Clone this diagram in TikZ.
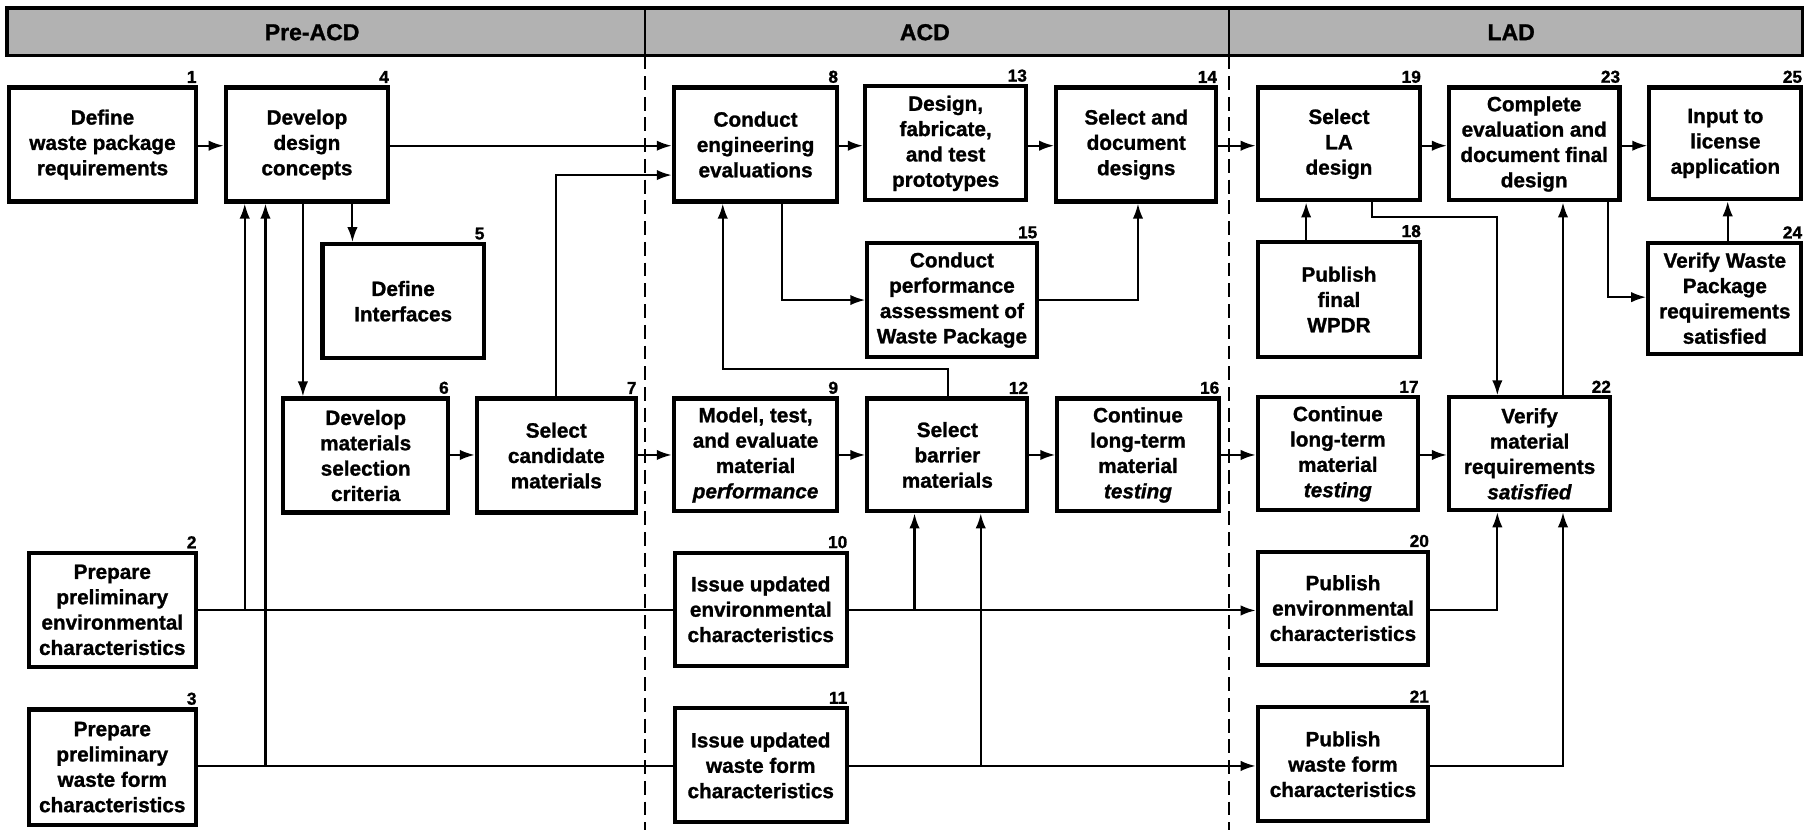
\documentclass[tikz,border=0pt]{standalone}
\usepackage{fontspec}
\setmainfont{Liberation Sans}[BoldFeatures={FakeBold=1.2},BoldItalicFeatures={FakeBold=1.2}]
\usetikzlibrary{arrows.meta}
\newcommand\bxfont{\fontsize{18}{22}\selectfont\bfseries}
\newcommand\nmfont{\fontsize{15}{15}\selectfont\bfseries}
\newcommand\phfont{\fontsize{20}{20}\selectfont\bfseries}
\newcommand\bx[6]{%
  \node[box, minimum width={#4-#2}, minimum height={#5-#3}] (b#1) at ({(#2+#4)/2},{(#3+#5)/2}) {#6};
  \node[num] (l#1) at ([yshift=1pt]b#1.north east) {#1};}
\begin{document}
\begin{tikzpicture}[x=1pt,y=-1pt,
  box/.style={draw, line width=3.6pt, align=center, font=\bxfont, inner sep=2pt},
  num/.style={font=\nmfont, anchor=south east, inner sep=1pt},
  con/.style={line width=1.8pt},
  arr/.style={con, -{Latex[length=13pt,width=9pt]}},
  phase/.style={font=\phfont},
  divider/.style={line width=2.2pt, dash pattern=on 12pt off 6pt}
]
\useasboundingbox (0,0) rectangle (1568,721);
% header bar
\draw[line width=3pt, fill=black!30] (6,7) rectangle (1565,48);
\draw[line width=2.2pt] (560,7) -- (560,48) (1067,7) -- (1067,48);
\node[phase] (ph1) at (271,28) {Pre-ACD};
\node[phase] (ph2) at (803,28) {ACD};
\node[phase] (ph3) at (1312,28) {LAD};
\draw[divider] (560,48) -- (560,721);
\draw[divider] (1067,48) -- (1067,721);
% boxes
\bx{1}{8}{76}{170}{175}{Define\\waste package\\requirements}
\bx{4}{196}{76}{337}{175}{Develop\\design\\concepts}
\bx{8}{585}{76}{727}{175}{Conduct\\engineering\\evaluations}
\bx{13}{751}{75}{891}{174}{Design,\\fabricate,\\and test\\prototypes}
\bx{14}{917}{76}{1056}{175}{Select and\\document\\designs}
\bx{19}{1092}{76}{1233}{174}{Select\\LA\\design}
\bx{23}{1258}{76}{1406}{174}{Complete\\evaluation and\\document final\\design}
\bx{25}{1432}{76}{1564}{173}{Input to\\license\\application}
\bx{5}{280}{212}{420}{311}{Define\\Interfaces}
\bx{15}{753}{211}{900}{310}{Conduct\\performance\\assessment of\\Waste Package}
\bx{18}{1092}{210}{1233}{310}{Publish\\final\\WPDR}
\bx{24}{1431}{211}{1564}{307}{Verify Waste\\Package\\requirements\\satisfied}
\bx{6}{246}{346}{389}{445}{Develop\\materials\\selection\\criteria}
\bx{7}{414}{346}{552}{445}{Select\\candidate\\materials}
\bx{9}{585}{346}{727}{444}{Model, test,\\and evaluate\\material\\\textit{performance}}
\bx{12}{753}{346}{892}{444}{Select\\barrier\\materials}
\bx{16}{918}{346}{1058}{444}{Continue\\long-term\\material\\\textit{testing}}
\bx{17}{1092}{345}{1231}{443}{Continue\\long-term\\material\\\textit{testing}}
\bx{22}{1258}{345}{1398}{443}{Verify\\material\\requirements\\\textit{satisfied}}
\bx{2}{25}{480}{170}{579}{Prepare\\preliminary\\environmental\\characteristics}
\bx{10}{586}{480}{735}{578}{Issue updated\\environmental\\characteristics}
\bx{20}{1092}{479}{1240}{577}{Publish\\environmental\\characteristics}
\bx{3}{25}{616}{170}{716}{Prepare\\preliminary\\waste form\\characteristics}
\bx{11}{586}{615}{735}{714}{Issue updated\\waste form\\characteristics}
\bx{21}{1092}{614}{1240}{713}{Publish\\waste form\\characteristics}
% reference levels
\coordinate (yA) at (0,126.5);
\coordinate (yA2) at (0,152);
\coordinate (yB) at (0,260.5);
\coordinate (yC) at (0,395);
\coordinate (yD) at (0,530);
\coordinate (yE) at (0,665);
\coordinate (x2) at (212.5,0);
\coordinate (x3) at (230.5,0);
\coordinate (x6) at (263,0);
\coordinate (x5) at (306,0);
\coordinate (x8) at (679,0);
\coordinate (x14) at (988,0);
\coordinate (k1) at (823,320);
\coordinate (k2) at (627.5,320);
\coordinate (j1) at (794,530);
\coordinate (j2) at (851.5,665);
\coordinate (xa) at (1300,0);
\coordinate (xb) at (1357,0);
\coordinate (m1) at (1191,188);
\coordinate (m2) at (1300,188);
\coordinate (x18) at (1134,0);
\coordinate (n1) at (1396,258);
\coordinate (x24) at (1500,0);
% row A
\draw[arr] (b1.east |- yA) -- (b4.west |- yA);
\draw[arr] (b4.east |- yA) -- (b8.west |- yA);
\draw[arr] (b8.east |- yA) -- (b13.west |- yA);
\draw[arr] (b13.east |- yA) -- (b14.west |- yA);
\draw[arr] (b14.east |- yA) -- (b19.west |- yA);
\draw[arr] (b19.east |- yA) -- (b23.west |- yA);
\draw[arr] (b23.east |- yA) -- (b25.west |- yA);
\draw[arr] (b7.north) |- (b8.west |- yA2);
% from box 4
\draw[arr] (b4.south -| x5) -- (b5.north -| x5);
\draw[arr] (b4.south -| x6) -- (b6.north -| x6);
\draw[arr] (b2.east |- yD) -| (b4.south -| x2);
\draw[arr] (b3.east |- yE) -| (b4.south -| x3);
\draw[con] (b2.east |- yD) -- (b10.west |- yD);
\draw[con] (b3.east |- yE) -- (b11.west |- yE);
% row C
\draw[arr] (b6.east |- yC) -- (b7.west |- yC);
\draw[arr] (b7.east |- yC) -- (b9.west |- yC);
\draw[arr] (b9.east |- yC) -- (b12.west |- yC);
\draw[arr] (b12.east |- yC) -- (b16.west |- yC);
\draw[arr] (b16.east |- yC) -- (b17.west |- yC);
\draw[arr] (b17.east |- yC) -- (b22.west |- yC);
% ACD loops
\draw[arr] (b8.south -| x8) |- (b15.west |- yB);
\draw[arr] (b15.east |- yB) -| (b14.south -| x14);
\draw[arr] (b12.north -| k1) -- (k1) -- (k2) -- (b8.south -| k2);
\draw[arr] (b10.east |- yD) -- (b20.west |- yD);
\draw[arr] (b11.east |- yE) -- (b21.west |- yE);
\draw[arr] (j1) -- (b12.south -| j1);
\draw[arr] (j2) -- (b12.south -| j2);
% LAD
\draw[arr] (b20.east |- yD) -| (b22.south -| xa);
\draw[arr] (b21.east |- yE) -| (b22.south -| xb);
\draw[arr] (b19.south -| m1) -- (m1) -- (m2) -- (b22.north -| m2);
\draw[arr] (b22.north -| xb) -- (b23.south -| xb);
\draw[arr] (b18.north -| x18) -- (b19.south -| x18);
\draw[arr] (b23.south -| n1) |- (b24.west |- n1);
\draw[arr] (b24.north -| x24) -- (b25.south -| x24);
\end{tikzpicture}
\end{document}
